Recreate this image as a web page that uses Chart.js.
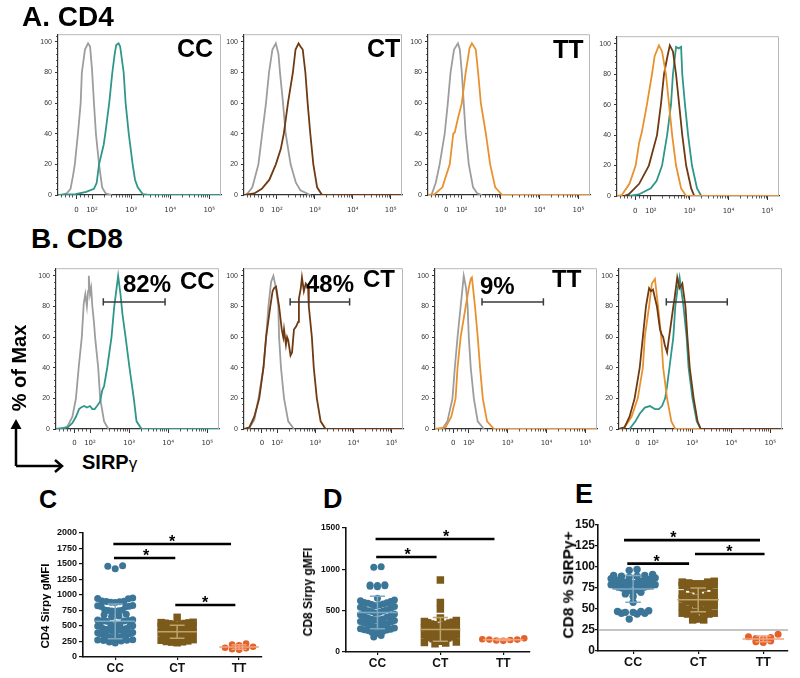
<!DOCTYPE html>
<html><head><meta charset="utf-8">
<script src="https://cdn.jsdelivr.net/npm/chart.js@4.4.1/dist/chart.umd.min.js"></script>
<style>
html,body{margin:0;padding:0;background:#fff;}
#root{position:relative;width:800px;height:678px;overflow:hidden;font-family:"Liberation Sans",Arial,sans-serif;}
canvas{position:absolute;z-index:1;}
.t{position:absolute;font-weight:bold;line-height:1;white-space:nowrap;color:#000;z-index:2;}
.r{position:absolute;font-weight:bold;line-height:1;white-space:nowrap;color:#000;z-index:2;transform:translate(-50%,-50%) rotate(-90deg);}
</style></head><body>
<div id="root">
  <div class="t" style="left:22px;top:3px;font-size:28px;">A. CD4</div>
  <div class="t" style="left:31px;top:225px;font-size:28px;">B. CD8</div>
  <div class="t" style="left:177px;top:36px;font-size:25px;">CC</div>
  <div class="t" style="left:367px;top:36px;font-size:25px;">CT</div>
  <div class="t" style="left:553px;top:37px;font-size:25px;">TT</div>
  <div class="t" style="left:123px;top:272px;font-size:24px;">82%</div>
  <div class="t" style="left:180px;top:269px;font-size:24px;">CC</div>
  <div class="t" style="left:306px;top:272px;font-size:24px;">48%</div>
  <div class="t" style="left:363px;top:267px;font-size:24px;">CT</div>
  <div class="t" style="left:480px;top:274px;font-size:24px;">9%</div>
  <div class="t" style="left:552px;top:267px;font-size:24px;">TT</div>
  <div class="r" style="left:19px;top:368px;font-size:20px;">% of Max</div>
  <div class="t" style="left:82px;top:452px;font-size:20px;">SIRP<span style="font-weight:normal;font-size:17px;">γ</span></div>
  <div class="t" style="left:39px;top:487px;font-size:25px;">C</div>
  <div class="t" style="left:323px;top:486px;font-size:27px;">D</div>
  <div class="t" style="left:575px;top:481px;font-size:27px;">E</div>
  <div class="r" style="left:46px;top:606px;font-size:11.5px;">CD4 Sirpγ gMFI</div>
  <div class="r" style="left:308px;top:592px;font-size:12px;">CD8 Sirpγ gMFI</div>
  <div class="r" style="left:568px;top:585px;font-size:15.5px;">CD8 % SIRPγ+</div>
  <svg style="position:absolute;left:0;top:400px;z-index:2" width="80" height="80">
    <path d="M16 66 V27 M16 66 H60" stroke="#000" stroke-width="2.5" fill="none"/>
    <path d="M10.5 29 L16 19 L21.5 29 Z" fill="#000"/>
    <path d="M55 60 L62 66 L55 72" stroke="#000" stroke-width="2.5" fill="none"/>
  </svg>
</div>
<script>
// ---------------- DATA ----------------
// Histogram x positions are in decades of fluorescence (2 = 10^2), y in % of Max
const decTickVals = [1.6, 2, 3, 4, 5];
const decTickLabels = ['0', '10²', '10³', '10⁴', '10⁵'];
const pctTickVals = [0, 20, 40, 60, 80, 100];

// A. CD4
const cd4CC_iso  = [[1.2,0],[1.35,1],[1.45,4],[1.51,12],[1.56,20],[1.64,40],[1.71,60],[1.74,80],[1.82,95],[1.90,99],[1.95,97],[2.0,82],[2.05,60],[2.10,40],[2.18,20],[2.26,5],[2.35,1],[2.5,0]];
const cd4CC_sirp = [[1.13,0],[1.58,0.5],[1.85,2],[2.05,4],[2.12,8],[2.18,20],[2.30,33],[2.34,40],[2.44,60],[2.52,80],[2.58,92],[2.62,98],[2.68,99],[2.72,97],[2.81,80],[2.86,60],[2.94,40],[3.04,20],[3.10,10],[3.17,5],[3.30,0.5],[3.45,0],[5.3,0]];
const cd4CT_iso  = [[1.19,0],[1.35,5],[1.51,20],[1.61,40],[1.71,60],[1.79,80],[1.88,95],[1.97,99],[2.04,92],[2.08,80],[2.16,60],[2.23,40],[2.36,20],[2.50,8],[2.62,3],[2.88,0]];
const cd4CT_sirp = [[1.13,0],[1.40,1],[1.60,4],[1.80,10],[1.97,20],[2.10,30],[2.18,40],[2.29,60],[2.42,80],[2.49,95],[2.57,99],[2.62,97],[2.68,95],[2.75,80],[2.81,60],[2.88,40],[2.96,20],[3.06,5],[3.19,0],[5.3,0]];
const cd4TT_iso  = [[1.22,0],[1.33,8],[1.43,20],[1.56,40],[1.64,60],[1.71,80],[1.80,95],[1.90,99],[1.95,95],[2.0,80],[2.05,60],[2.10,40],[2.18,20],[2.29,5],[2.40,1],[2.52,0]];
const cd4TT_sirp = [[1.13,0],[1.30,0.5],[1.50,5],[1.69,20],[1.78,40],[1.82,41],[1.90,50],[2.0,60],[2.10,80],[2.20,96],[2.26,99],[2.36,95],[2.42,80],[2.49,60],[2.62,40],[2.73,20],[2.86,5],[3.04,0],[5.3,0]];
const cd4ov_CC   = [[1.45,0],[1.69,1],[2.0,5],[2.15,10],[2.29,20],[2.42,40],[2.52,60],[2.57,80],[2.65,98],[2.72,97],[2.78,98],[2.81,80],[2.88,60],[2.96,40],[3.06,20],[3.19,5],[3.30,0],[5.3,0]];
const cd4ov_CT   = [[1.30,0],[1.43,1],[1.70,8],[1.95,20],[2.16,40],[2.26,60],[2.34,80],[2.43,92],[2.49,99],[2.57,95],[2.65,80],[2.73,60],[2.81,40],[2.91,20],[3.04,5],[3.12,0],[5.3,0]];
const cd4ov_TT   = [[1.13,0],[1.25,0.5],[1.45,8],[1.61,20],[1.70,35],[1.77,42],[1.90,60],[2.03,80],[2.10,92],[2.21,99],[2.29,95],[2.39,80],[2.47,60],[2.55,40],[2.65,20],[2.78,5],[2.91,0],[5.3,0]];

// B. CD8
const cd8CC_iso  = [[1.3,0],[1.43,2],[1.55,8],[1.64,20],[1.71,40],[1.79,60],[1.84,82],[1.88,88],[1.92,80],[1.95,90],[1.97,100],[2.0,88],[2.03,92],[2.06,80],[2.10,70],[2.13,60],[2.21,40],[2.26,20],[2.36,5],[2.47,0]];
const cd8CC_sirp = [[1.13,0],[1.43,1],[1.55,4],[1.64,8],[1.72,13],[1.77,14],[1.85,15],[1.92,14],[2.0,15],[2.06,13],[2.12,13],[2.18,15],[2.26,18],[2.31,25],[2.36,28],[2.44,40],[2.55,60],[2.62,80],[2.68,92],[2.72,100],[2.78,88],[2.83,75],[2.91,60],[3.01,40],[3.12,20],[3.19,5],[3.32,0],[5.3,0]];
const cd8CT_iso  = [[1.25,0],[1.40,6],[1.51,20],[1.64,40],[1.71,60],[1.77,80],[1.84,96],[1.90,100],[1.97,92],[2.03,80],[2.05,60],[2.10,40],[2.18,20],[2.29,5],[2.44,0]];
const cd8CT_sirp = [[1.13,0],[1.27,1],[1.40,8],[1.53,20],[1.64,40],[1.71,60],[1.82,80],[1.88,90],[1.92,92],[1.97,93],[2.05,80],[2.12,65],[2.16,60],[2.18,65],[2.23,55],[2.26,60],[2.29,58],[2.35,48],[2.39,50],[2.44,65],[2.50,67],[2.55,70],[2.57,85],[2.62,92],[2.65,99],[2.70,90],[2.75,95],[2.81,93],[2.83,80],[2.91,60],[2.96,40],[3.04,20],[3.14,5],[3.27,0],[5.3,0]];
const cd8TT_iso  = [[1.32,0],[1.45,5],[1.58,20],[1.64,40],[1.71,60],[1.79,80],[1.87,100],[1.93,92],[1.97,80],[2.0,60],[2.05,40],[2.13,20],[2.23,5],[2.39,0]];
const cd8TT_sirp = [[1.13,0],[1.40,1],[1.55,8],[1.66,20],[1.71,40],[1.79,60],[1.92,80],[2.0,92],[2.05,98],[2.08,99],[2.16,80],[2.23,60],[2.29,40],[2.36,20],[2.47,5],[2.65,0],[5.3,0]];
const cd8ov_CC   = [[1.40,0],[1.55,5],[1.66,10],[1.79,14],[1.92,15],[2.05,13],[2.15,13],[2.23,15],[2.31,20],[2.36,28],[2.42,40],[2.52,60],[2.57,80],[2.62,90],[2.68,99],[2.78,80],[2.86,60],[2.91,40],[3.01,20],[3.12,5],[3.22,0],[5.3,0]];
const cd8ov_CT   = [[1.13,0],[1.27,1],[1.40,8],[1.53,20],[1.66,40],[1.74,60],[1.82,80],[1.90,92],[1.95,90],[2.0,91],[2.10,80],[2.18,65],[2.22,62],[2.26,60],[2.30,55],[2.36,50],[2.40,58],[2.44,65],[2.52,80],[2.55,85],[2.62,99],[2.68,92],[2.75,95],[2.83,80],[2.88,60],[2.94,40],[3.04,20],[3.14,5],[3.22,0],[5.3,0]];
const cd8ov_TT   = [[1.13,0],[1.27,1],[1.45,8],[1.61,20],[1.74,40],[1.79,60],[1.90,80],[1.97,95],[2.05,98],[2.13,80],[2.21,60],[2.26,40],[2.36,20],[2.47,5],[2.57,0],[5.3,0]];
const cd8Gates = [[2.34,3.92],[2.34,3.90],[2.34,3.92],[2.34,3.90]];
const gateLevel = 83;

// C, D, E dot plots
const genotypes = ['CC', 'CT', 'TT'];
const cTicks = [0,250,500,750,1000,1250,1500,1750,2000];
const dTicks = [0,500,1000,1500];
const eTicks = [0,25,50,75,100,125,150];

const cd4MFI_CC = [1470,1465,1425,950,945,940,905,900,895,890,885,880,830,825,820,815,810,760,755,750,745,740,735,690,680,660,650,600,595,590,585,580,575,520,515,510,505,500,495,490,460,455,450,445,440,435,430,425,400,395,390,385,380,375,370,365,360,355,340,335,330,325,320,315,310,305,300,295,280,275,270,265,260,240,225];
const cd4MFI_CT = [640,560,555,550,545,540,535,530,520,510,500,495,490,480,470,460,455,450,445,440,430,420,410,400,395,390,385,380,370,360,350,345,340,335,330,320,310,300,295,290,280,270,260,250,245,240,230];
const cd4MFI_TT = [215,200,190,165,150,140,125,115];

const cd8MFI_CC = [1030,1025,815,810,805,800,795,790,650,630,620,610,600,595,590,580,575,570,560,550,540,530,520,510,500,495,490,480,470,460,450,440,430,420,410,400,395,390,385,380,370,360,350,340,335,330,320,310,300,290,280,275,270,265,260,250,240,230,220,200,180];
const cd8MFI_CT = [870,600,520,410,380,370,360,355,350,340,335,330,320,310,300,295,290,280,270,265,260,250,240,235,230,220,210,205,200,190,180,175,170,160,150,145,140,130,120,115,110,100];
const cd8MFI_TT = [165,155,150,150,145,140,135];

const cd8Pct_CC = [97,96,91,90,90,89,89,88,87,86,86,85,85,84,84,83,83,82,82,81,80,80,79,79,78,78,77,76,76,75,75,74,73,72,71,70,68,65,58,48,47,47,46,46,45,45,44,38];
const cd8Pct_CT = [83,82,82,81,80,80,79,78,77,76,75,74,72,70,68,66,65,64,63,62,62,61,60,60,59,58,57,56,55,54,53,52,50,48,46,45,45,44,44,43,40,38,37,37];
const cd8Pct_TT = [20,17,16,15,14,12,11,10];

// significance bars: [from, to, level, star position]
const sigC = [[-0.03,1.87,1823,0.92],[-0.02,0.97,1597,0.5],[0.97,1.94,839,1.45]];
const sigD = [[-0.03,1.86,1367,1.09],[-0.02,0.94,1149,0.48]];
const sigE = [[-0.14,1.95,132,0.62],[-0.09,0.86,104,0.36],[0.95,2.02,115.5,1.48]];
const eCutoff = 25;

// ---------------- DRAWING ----------------
const FF = '"Liberation Sans", Arial, sans-serif';
const GREY='#9d9d9d', TEAL='#2f968a', BROWN='#6f3912', ORANGE='#e8922f';
const BLUE='#3b7698', OLIVE='#7c5a1b', RED='#e2622a';
const root = document.getElementById('root');

function makeCanvas(l,t,w,h){
  const c=document.createElement('canvas');
  c.width=w; c.height=h;
  c.style.left=l+'px'; c.style.top=t+'px'; c.style.width=w+'px'; c.style.height=h+'px';
  root.appendChild(c); return c;
}

const xMinor = [1.2,1.3,1.4,1.5,1.7,1.8,1.9];
[2,3,4,5].forEach(n=>{for(let k=2;k<=9;k++){const v=n+Math.log10(k); if(v<5.3) xMinor.push(v);}});
const yMinor = [];
for(let v=4; v<=104; v+=4){ if(v%20!==0) yMinor.push(v); }

const framePlugin = {id:'frame', afterDatasetsDraw(chart){
  const {ctx, chartArea:a} = chart;
  ctx.save(); ctx.strokeStyle='#b8b8b8'; ctx.lineWidth=1;
  ctx.beginPath(); ctx.moveTo(a.left, a.top+0.5); ctx.lineTo(a.right-0.5, a.top+0.5); ctx.lineTo(a.right-0.5, a.bottom); ctx.stroke();
  ctx.restore();
}};
const minorPlugin = {id:'minor', afterDraw(chart){
  const {ctx, chartArea:a, scales:{x,y}} = chart;
  ctx.save(); ctx.strokeStyle='#333'; ctx.lineWidth=0.8; ctx.beginPath();
  xMinor.forEach(v=>{const p=Math.round(x.getPixelForValue(v))+0.5; ctx.moveTo(p,a.bottom); ctx.lineTo(p,a.bottom+2.5);});
  yMinor.forEach(v=>{const p=Math.round(y.getPixelForValue(v))+0.5; ctx.moveTo(a.left,p); ctx.lineTo(a.left-2,p);});
  ctx.stroke(); ctx.restore();
}};

function hist(area, curves, gate, xpad){
  const yW=30, padT=6, padR=5, xH=22;
  const left=area.l-yW, top=area.t-padT, w=area.r+padR-left, h=area.b+xH-top;
  const cv=makeCanvas(left,top,w,h);
  const ds=curves.map((c,i)=>({data:c[0].map(q=>({x:q[0],y:q[1]})), borderColor:c[1], backgroundColor:c[1], borderWidth:1.8, showLine:true, pointRadius:0, order:-i}));
  if(gate){
    const g1=gate[0], g2=gate[1], L=gateLevel, e=2.4;
    ds.push({data:[{x:g1,y:L-e},{x:g1,y:L+e},{x:g1,y:null},{x:g1,y:L},{x:g2,y:L},{x:g2,y:null},{x:g2,y:L-e},{x:g2,y:L+e}],
      borderColor:'#3a3a3a', borderWidth:1.5, showLine:true, pointRadius:0, spanGaps:false, order:-10});
  }
  new Chart(cv,{type:'scatter', data:{datasets:ds}, options:{
    responsive:false, animation:false, events:[], devicePixelRatio:1,
    layout:{padding:{top:padT,right:padR,left:0,bottom:0}},
    plugins:{legend:{display:false}, tooltip:{enabled:false}},
    scales:{
      x:{type:'linear', min:1.13, max:5.3,
        afterBuildTicks:s=>{s.ticks=decTickVals.map(v=>({value:v}));},
        afterFit:s=>{s.height=xH;},
        ticks:{callback:v=>decTickLabels[decTickVals.indexOf(v)], font:{size:7,family:'"DejaVu Sans", sans-serif'}, color:'#333', padding:xpad, maxRotation:0, autoSkip:false},
        grid:{drawOnChartArea:false, tickLength:4, color:'#333', lineWidth:1},
        border:{color:'#333', width:1.2}},
      y:{type:'linear', min:0, max:105,
        afterBuildTicks:s=>{s.ticks=pctTickVals.map(v=>({value:v}));},
        afterFit:s=>{s.width=yW;},
        ticks:{font:{size:7,family:FF}, color:'#333', padding:3, callback:v=>String(v)},
        grid:{drawOnChartArea:false, tickLength:3, color:'#333', lineWidth:1},
        border:{color:'#333', width:1.2}}
    }}, plugins:[framePlugin, minorPlugin]});
}

hist({l:58,t:33,r:221,b:195}, [[cd4CC_iso,GREY],[cd4CC_sirp,TEAL]], null, 7);
hist({l:244,t:33,r:402,b:195}, [[cd4CT_iso,GREY],[cd4CT_sirp,BROWN]], null, 7);
hist({l:428,t:33,r:590,b:195}, [[cd4TT_iso,GREY],[cd4TT_sirp,ORANGE]], null, 7);
hist({l:617,t:35,r:779,b:196}, [[cd4ov_CC,TEAL],[cd4ov_CT,BROWN],[cd4ov_TT,ORANGE]], null, 7);
hist({l:56,t:267,r:219,b:429}, [[cd8CC_iso,GREY],[cd8CC_sirp,TEAL]], cd8Gates[0], 6);
hist({l:244,t:267,r:403,b:429}, [[cd8CT_iso,GREY],[cd8CT_sirp,BROWN]], cd8Gates[1], 6);
hist({l:435,t:267,r:597,b:429}, [[cd8TT_iso,GREY],[cd8TT_sirp,ORANGE]], cd8Gates[2], 6);
hist({l:619,t:267,r:782,b:429}, [[cd8ov_CC,TEAL],[cd8ov_TT,ORANGE],[cd8ov_CT,BROWN]], cd8Gates[3], 6);

function mean(a){return a.reduce((s,v)=>s+v,0)/a.length;}
function stdev(a){const m=mean(a); return Math.sqrt(a.reduce((s,v)=>s+(v-m)*(v-m),0)/(a.length-1));}

// Prism-like column layout: values grouped into rows, spread sideways (overlapping if crowded)
function prismLayout(vals, cx, ky, kx, step0, half, binPx){
  const sorted=[...vals].sort((a,b)=>a-b);
  const bins=new Map();
  sorted.forEach(v=>{const b=Math.round(v*ky/binPx); if(!bins.has(b)) bins.set(b,[]); bins.get(b).push(v);});
  const pts=[];
  bins.forEach(list=>{
    const n=list.length; let step=step0;
    if(n>1 && (n-1)*step/2>half) step=2*half/(n-1);
    const slots=list.map((_,i)=>(i-(n-1)/2)*step).sort((a,b)=>Math.abs(a)-Math.abs(b));
    list.forEach((v,i)=>pts.push({x:cx+slots[i]/kx, y:v}));
  });
  return pts;
}

function dotplot(o){
  const a=o.area, padT=8, padR=o.padR;
  const left=a.l-o.yW, top=a.t-padT, w=a.r+padR-left, h=678-top;
  const xH=h-(a.b-top);
  const cv=makeCanvas(left,top,w,h);
  const kx=(a.r-a.l)/(o.xMax-o.xMin), ky=(a.b-a.t)/o.yMax;
  const ds=[];
  o.groups.forEach((g,i)=>{
    ds.push({data:prismLayout(g.v,i,ky,kx,g.r*2+0.4,g.half,7), pointStyle:g.s, pointRadius:g.r,
      backgroundColor:g.c, borderColor:g.c, pointBorderWidth:0, showLine:false, order:10});
    const m=mean(g.v), sd=stdev(g.v), hw=0.32, cw=0.12;
    ds.push({data:[{x:i-hw,y:m},{x:i+hw,y:m},{x:i,y:null},{x:i,y:m-sd},{x:i,y:m+sd},{x:i,y:null},
      {x:i-cw,y:m+sd},{x:i+cw,y:m+sd},{x:i,y:null},{x:i-cw,y:m-sd},{x:i+cw,y:m-sd}],
      borderColor:g.lc, borderWidth:1.5, showLine:true, pointRadius:0, spanGaps:false, order:1});
  });
  const sd=[];
  o.sig.forEach(s=>{sd.push({x:s[0],y:s[2]},{x:s[1],y:s[2]},{x:s[1],y:null});});
  ds.push({data:sd, borderColor:'#000', borderWidth:2.6, showLine:true, pointRadius:0, spanGaps:false, order:0});
  if(o.hline!==undefined){
    ds.push({data:[{x:o.xMin,y:o.hline},{x:o.xMax,y:o.hline}], borderColor:'#8a8a8a', borderWidth:1.2, showLine:true, pointRadius:0, order:0});
  }
  const starPlugin={id:'stars', afterDatasetsDraw(chart){
    const {ctx, scales:{x,y}}=chart;
    ctx.save(); ctx.fillStyle='#000'; ctx.font='bold 16px '+FF; ctx.textAlign='center'; ctx.textBaseline='alphabetic';
    o.sig.forEach(s=>ctx.fillText('*', x.getPixelForValue(s[3]), y.getPixelForValue(s[2])+3));
    ctx.restore();
  }};
  new Chart(cv,{type:'scatter', data:{datasets:ds}, options:{
    responsive:false, animation:false, events:[], devicePixelRatio:1,
    layout:{padding:{top:padT,right:padR,left:0,bottom:0}},
    plugins:{legend:{display:false}, tooltip:{enabled:false}},
    scales:{
      x:{type:'linear', min:o.xMin, max:o.xMax,
        afterBuildTicks:s=>{s.ticks=genotypes.map((_,i)=>({value:i}));},
        afterFit:s=>{s.height=xH;},
        ticks:{callback:v=>genotypes[v], font:{size:o.catSize,weight:'bold',family:FF}, color:'#111', padding:1, maxRotation:0, autoSkip:false},
        grid:{drawOnChartArea:false, tickLength:3, color:'#111', lineWidth:1.2},
        border:{color:'#111', width:1.6}},
      y:{type:'linear', min:0, max:o.yMax,
        afterBuildTicks:s=>{s.ticks=o.ticks.map(v=>({value:v}));},
        afterFit:s=>{s.width=o.yW;},
        ticks:{font:{size:o.tickSize,weight:'bold',family:FF}, color:'#111', padding:o.tickPad, callback:v=>String(v)},
        grid:{drawOnChartArea:false, tickLength:o.tickLen, color:'#111', lineWidth:1.2},
        border:{color:'#111', width:1.6}}
    }}, plugins:[starPlugin]});
}

dotplot({area:{l:83,t:533,r:262,b:657}, yW:35, padR:8, xMin:-0.52, xMax:2.37, yMax:2000, ticks:cTicks, tickSize:9, tickPad:2, tickLen:4, catSize:12, sig:sigC,
  groups:[{v:cd4MFI_CC,c:BLUE,lc:'#7fa8c2',s:'circle',r:3.5,half:17.5},{v:cd4MFI_CT,c:OLIVE,lc:'#bda36c',s:'rect',r:5.3,half:16},{v:cd4MFI_TT,c:RED,lc:'#f3a27c',s:'circle',r:3.3,half:16}]});
dotplot({area:{l:346,t:528,r:530,b:652}, yW:35, padR:5, xMin:-0.5, xMax:2.42, yMax:1500, ticks:dTicks, tickSize:8.5, tickPad:2, tickLen:4, catSize:12, sig:sigD,
  groups:[{v:cd8MFI_CC,c:BLUE,lc:'#7fa8c2',s:'circle',r:3.5,half:17},{v:cd8MFI_CT,c:OLIVE,lc:'#bda36c',s:'rect',r:5.3,half:16},{v:cd8MFI_TT,c:RED,lc:'#f3a27c',s:'circle',r:3.3,half:22}]});
dotplot({area:{l:598,t:525,r:788,b:651}, yW:28, padR:8, xMin:-0.54, xMax:2.38, yMax:150, ticks:eTicks, tickSize:12, tickPad:0, tickLen:3, catSize:12.5, sig:sigE, hline:eCutoff,
  groups:[{v:cd8Pct_CC,c:BLUE,lc:'#7fa8c2',s:'circle',r:3.7,half:22},{v:cd8Pct_CT,c:OLIVE,lc:'#bda36c',s:'rect',r:5.3,half:16},{v:cd8Pct_TT,c:RED,lc:'#f3a27c',s:'circle',r:3.5,half:17}]});
</script>
</body></html>
